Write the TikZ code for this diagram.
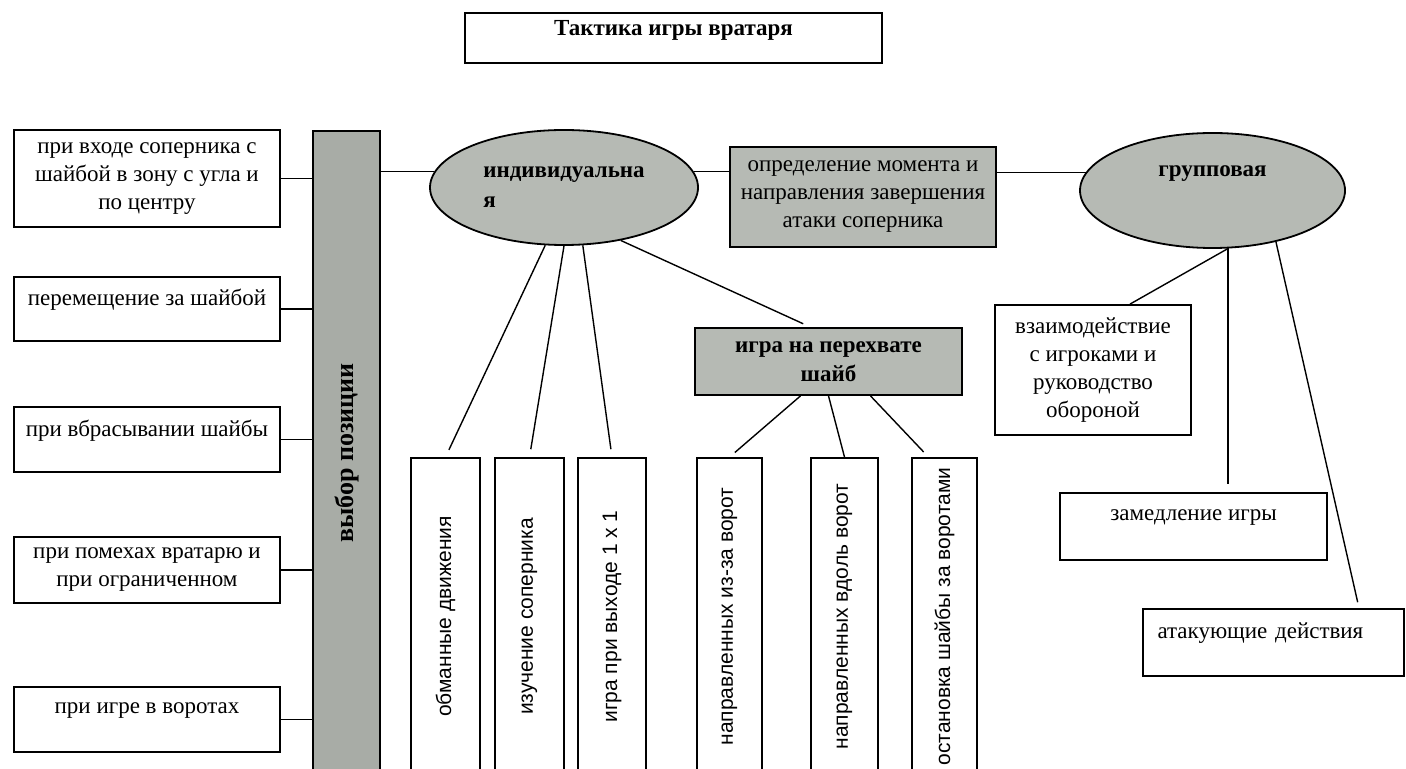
\documentclass[tikz,border=0pt]{standalone}
\usepackage{fontspec}
\setmainfont{Liberation Serif}
\newfontfamily\sansfont{Liberation Sans}
\usepackage{graphicx}
\usetikzlibrary{shapes}
\definecolor{fillgray}{RGB}{182,186,180}
\definecolor{bargray}{RGB}{168,172,166}

\begin{document}
\begin{tikzpicture}[x=0.5pt,y=-0.5pt,
  box/.style={draw=black,line width=0.9pt,fill=white,align=center,font=\fontsize{11.5}{14}\selectfont},
  greybox/.style={box,fill=fillgray},
  oval/.style={ellipse,draw=black,line width=0.9pt,fill=fillgray,inner sep=0pt,font=\bfseries\fontsize{11.5}{15}\selectfont},
  lift/.style={text depth=#1},
  tall/.style={draw=black,line width=0.9pt,minimum width=#1,minimum height=158.5pt,inner sep=0pt,font=\sansfont\fontsize{10.5}{12}\selectfont},
  link/.style={line width=0.7pt}]
\useasboundingbox (0,0) rectangle (1406,769);

%Title
\node at (673.5,38) [box,lift=10.5pt,minimum width=208.5pt,minimum height=25pt,font=\bfseries\fontsize{11.5}{14}\selectfont] (Title) {Тактика игры вратаря};

%Left column
\node at (147,178.5) [box,minimum width=133pt,minimum height=48.5pt] (B1) {при входе соперника с\\шайбой в зону с угла и\\по центру};
\node at (147,309) [box,lift=11.5pt,minimum width=133pt,minimum height=32pt] (B2) {перемещение за шайбой};
\node at (147,439.5) [box,lift=11pt,minimum width=133pt,minimum height=32.5pt] (B3) {при вбрасывании шайбы};
\node at (147,570) [box,minimum width=133pt,minimum height=33pt] (B4) {при помехах вратарю и\\при ограниченном};
\node at (147,719.5) [box,lift=11.5pt,minimum width=133pt,minimum height=32.5pt] (B5) {при игре в воротах};
\node at (346.5,453) [draw=black,line width=0.9pt,fill=bargray,minimum width=33.5pt,minimum height=322pt,inner sep=0pt,font=\bfseries\fontsize{13}{15}\selectfont] (Bar) {\rotatebox{90}{выбор позиции}};

%Ovals and grey boxes
\node at (564,187.5) [oval,align=left,minimum width=134pt,minimum height=57.5pt] (E1) {индивидуальна\\я};
\node at (863,197) [greybox,minimum width=133pt,minimum height=50pt] (G1) {определение момента и\\направления завершения\\атаки соперника};
\node at (1212.5,190.5) [oval,lift=19pt,minimum width=132.5pt,minimum height=57.5pt] (E2) {групповая};
\node at (828.5,361.5) [greybox,minimum width=133.5pt,minimum height=33.5pt,font=\bfseries\fontsize{11.5}{14.5}\selectfont] (G2) {игра на перехвате\\шайб};

%Vertical boxes
\node at (445.5,616.5) [tall=34.5pt] (V1) {\rotatebox{90}{обманные движения}};
\node at (529.5,616.5) [tall=34.5pt] (V2) {\rotatebox{90}{изучение соперника}};
\node at (612,616.5) [tall=34pt] (V3) {\rotatebox{90}{игра при выходе 1 x 1}};
\node at (729.5,616.5) [tall=32.5pt] (V4) {\rotatebox{90}{направленных из-за ворот}};
\node at (844.5,616.5) [tall=33.5pt] (V5) {\rotatebox{90}{направленных вдоль ворот}};
\node at (944.5,616.5) [tall=32.5pt] (V6) {\rotatebox{90}{остановка шайбы за воротами}};

%Right column
\node at (1093,370) [box,minimum width=98pt,minimum height=65pt] (R1) {взаимодействие\\с игроками и\\руководство\\обороной};
\node at (1193.5,526.5) [box,lift=11.5pt,minimum width=133.5pt,minimum height=33.5pt] (R2) {замедление игры};
\node at (1273.5,642.5) [box,lift=11.5pt,align=left,text width=116pt,inner xsep=7pt,minimum width=130.5pt,minimum height=33.5pt] (R3) {атакующие действия};

%Connections
\foreach \b in {B1,B2,B3,B4,B5}
  \draw[link] (\b.east) -- (\b.east -| Bar.west);
\draw[link] (Bar.east |- E1.173) -- (E1.173);
\draw[link] (E1.7) -- (E1.7 -| G1.west);
\draw[link] (G1.east |- E2.172) -- (E2.172);
\draw[link,shorten >=4pt] (E1.-108) -- (V1.north);
\draw[link,shorten >=4pt] (E1.-90) -- (V2.north);
\draw[link,shorten >=4pt] (E1.-72) -- (V3.north);
\draw[link,shorten >=4pt] (E1.-43) -- ([xshift=-9pt]G2.north);
\draw[link,shorten >=3.5pt] ([xshift=-14pt]G2.south) -- (V4.north);
\draw[link] (G2.south) -- (V5.north);
\draw[link,shorten >=3.5pt] ([xshift=21pt]G2.south) -- ([xshift=-8pt]V6.north);
\draw[link] (E2.-75) -- ([xshift=18.5pt]R1.north);
\draw[link,shorten >=4pt] (E2.-75) -- (E2.-75 |- R2.north);
\draw[link,shorten >=3pt] (E2.-39) -- ([xshift=42.75pt]R3.north);
\end{tikzpicture}
\end{document}
